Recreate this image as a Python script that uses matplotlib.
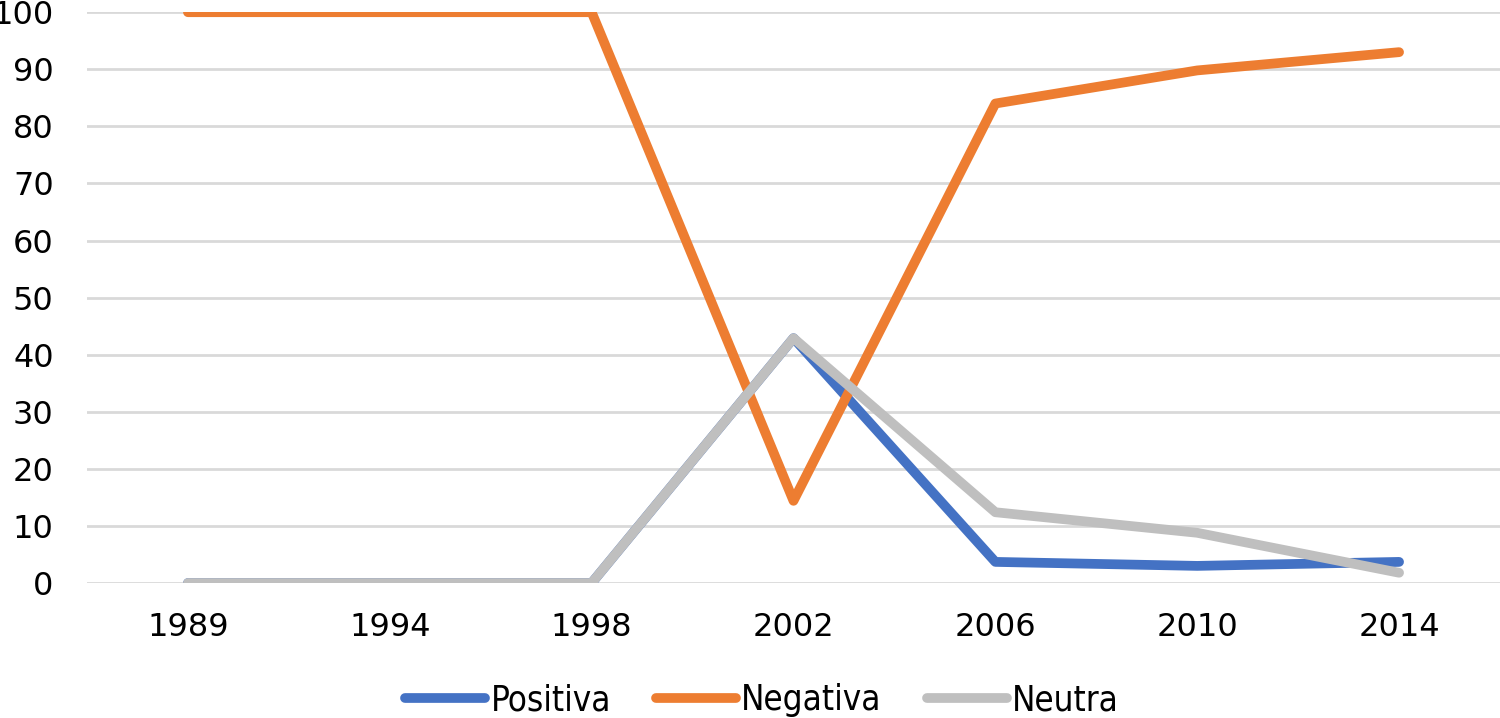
import numpy as np
import matplotlib.pyplot as plt

years = ["1989", "1994", "1998", "2002", "2006", "2010", "2014"]
positiva = [0, 0, 0, 42.9, 3.7, 3.0, 3.7]
negativa = [100, 100, 100, 14.4, 84, 89.8, 93]
neutra = [0, 0, 0, 42.9, 12.4, 8.8, 1.8]

x = np.arange(len(years))

fig = plt.figure(figsize=(15, 7.18), dpi=100)
ax = fig.add_axes([0.058, 0.188, 0.942, 0.795])

ax.plot(x, positiva, color="#4472c4", lw=7, solid_capstyle="round", solid_joinstyle="round", label="Positiva")
ax.plot(x, negativa, color="#ed7d31", lw=7, solid_capstyle="round", solid_joinstyle="round", label="Negativa")
ax.plot(x, neutra, color="#bfbfbf", lw=7, solid_capstyle="round", solid_joinstyle="round", label="Neutra")

ax.set_xlim(-0.5, len(years) - 0.5)
ax.set_ylim(0, 100)
ax.set_yticks(np.arange(0, 101, 10))
ax.set_xticks(x)
ax.set_xticklabels(years)
ax.grid(axis="y", color="#d9d9d9", lw=2)
ax.set_axisbelow(True)
for s in ax.spines.values():
    s.set_visible(False)
ax.tick_params(length=0, labelsize=23)
ax.tick_params(axis="x", pad=21)
ax.tick_params(axis="y", pad=24)

leg = fig.legend(loc="center", bbox_to_anchor=(0.508, 0.025), ncol=3, frameon=False,
                 prop={"size": 25, "stretch": "condensed"}, handlelength=2.3,
                 handletextpad=0.15, columnspacing=1.3)
for l in leg.get_lines():
    l.set_linewidth(7)

fig.savefig("out.png", dpi=100)
